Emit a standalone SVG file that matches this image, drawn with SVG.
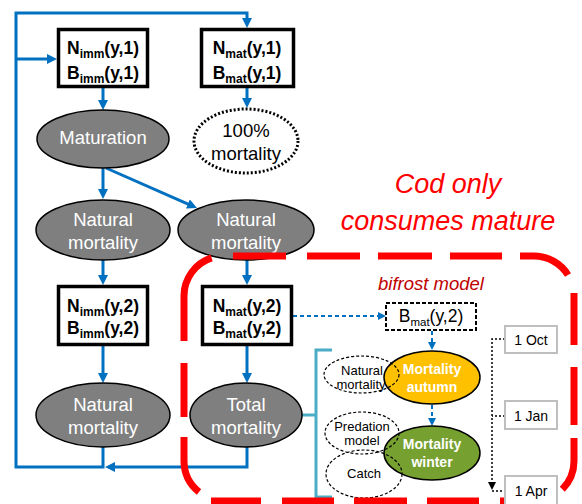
<svg xmlns="http://www.w3.org/2000/svg" width="582" height="504" viewBox="0 0 582 504">
<style>
text{font-family:"Liberation Sans",Arial,sans-serif;}
.box{fill:#fff;stroke:#000;stroke-width:3.5;}
.bt{font-size:17.5px;font-weight:bold;fill:#000;text-anchor:middle;}
.sub{font-size:12px;}
.gray{fill:#7f7f7f;stroke:#000;stroke-width:1.5;}
.wt{font-size:18.5px;fill:#fff;text-anchor:middle;}
.bl{fill:none;stroke:#0070C0;stroke-width:3;}
.bld{fill:none;stroke:#0070C0;stroke-width:2;stroke-dasharray:4 3;}
.rd{fill:none;stroke:#ff0000;stroke-width:7;}
.sm{fill:none;stroke:#000;stroke-width:1.2;stroke-dasharray:3 2;}
.st{font-size:13px;fill:#000;text-anchor:middle;}
.mt{font-size:14px;font-weight:bold;fill:#fff;text-anchor:middle;}
.tb{fill:#fff;stroke:#bfbfbf;stroke-width:2;}
.tt{font-size:14px;fill:#000;text-anchor:middle;}
.dot{fill:none;stroke:#000;stroke-width:1.5;stroke-dasharray:2 2;}
</style>
<defs>
<marker id="ab" viewBox="0 0 10 10" refX="4" refY="5" markerWidth="10" markerHeight="10" markerUnits="userSpaceOnUse" orient="auto"><path d="M0,0 L10,5 L0,10 z" fill="#0070C0"/></marker>
<marker id="abd" viewBox="0 0 8 8" refX="3" refY="4" markerWidth="8" markerHeight="8" markerUnits="userSpaceOnUse" orient="auto"><path d="M0,0 L8,4 L0,8 z" fill="#0070C0"/></marker>
<marker id="ak" viewBox="0 0 8 8" refX="3" refY="4" markerWidth="8" markerHeight="8" markerUnits="userSpaceOnUse" orient="auto"><path d="M0,0 L8,4 L0,8 z" fill="#000"/></marker>
</defs>

<g id="connectors">
<path class="bl" d="M103,447 L103,467 L16,467 L16,13 L247,13 L247,22" marker-end="url(#ab)"/>
<path class="bl" d="M16,59 L51,59" marker-end="url(#ab)"/>
<path class="bl" d="M103,88 L103,104" marker-end="url(#ab)"/>
<path class="bl" d="M247,88 L247,102" marker-end="url(#ab)"/>
<path class="bl" d="M103,168 L103,193" marker-end="url(#ab)"/>
<path class="bl" d="M106,168 L191.5,205.6" marker-end="url(#ab)"/>
<path class="bl" d="M103,260 L103,279" marker-end="url(#ab)"/>
<path class="bl" d="M247,260 L247,279" marker-end="url(#ab)"/>
<path class="bl" d="M103,346 L103,377" marker-end="url(#ab)"/>
<path class="bl" d="M247,346 L247,377" marker-end="url(#ab)"/>
<path class="bl" d="M247,447 L247,467 L111,467" marker-end="url(#ab)"/>
<path class="bld" d="M293,316 L381,316" marker-end="url(#abd)"/>
<path class="bld" d="M432,331 L432,345" marker-end="url(#abd)"/>
<path class="bld" d="M432,405 L432,421" marker-end="url(#abd)"/>
<path fill="none" stroke="#4BACC6" stroke-width="3" d="M332,350 L316,350 L316,497 L332,497 M302,415 L316,415"/>
<path class="dot" d="M505,339 L492,339 L492,485" marker-end="url(#ak)"/>
<path class="dot" d="M505,416 L492,416 M492,491 L505,491"/>
</g>

<g id="n-imm-1"><rect class="box" x="58.5" y="29.5" width="89" height="57"/>
<text class="bt" x="103" y="54">N<tspan class="sub" dy="4">imm</tspan><tspan dy="-4">(y,1)</tspan></text>
<text class="bt" x="103" y="79">B<tspan class="sub" dy="4">imm</tspan><tspan dy="-4">(y,1)</tspan></text></g>
<g id="n-mat-1"><rect class="box" x="201.5" y="29.5" width="92" height="57"/>
<text class="bt" x="247" y="54">N<tspan class="sub" dy="4">mat</tspan><tspan dy="-4">(y,1)</tspan></text>
<text class="bt" x="247" y="79">B<tspan class="sub" dy="4">mat</tspan><tspan dy="-4">(y,1)</tspan></text></g>

<g id="maturation"><ellipse class="gray" cx="103" cy="139" rx="66" ry="29"/>
<text class="wt" x="103" y="144">Maturation</text></g>
<g id="mortality-100"><ellipse fill="none" stroke="#000" stroke-width="3" stroke-dasharray="2 2" cx="246" cy="141" rx="52" ry="32"/>
<text class="wt" style="fill:#000" x="246" y="137">100%</text>
<text class="wt" style="fill:#000" x="246" y="160">mortality</text></g>

<g id="nat-mort-imm-1"><ellipse class="gray" cx="103" cy="230" rx="67" ry="30"/>
<text class="wt" x="103" y="226">Natural</text><text class="wt" x="103" y="249">mortality</text></g>
<g id="nat-mort-mat-1"><ellipse class="gray" cx="246" cy="230" rx="68" ry="30"/>
<text class="wt" x="246" y="226">Natural</text><text class="wt" x="246" y="249">mortality</text></g>

<g id="n-imm-2"><rect class="box" x="58.5" y="286.5" width="89" height="58"/>
<text class="bt" x="103" y="312">N<tspan class="sub" dy="4">imm</tspan><tspan dy="-4">(y,2)</tspan></text>
<text class="bt" x="103" y="334">B<tspan class="sub" dy="4">imm</tspan><tspan dy="-4">(y,2)</tspan></text></g>
<g id="n-mat-2"><rect class="box" x="202.5" y="286.5" width="89" height="58"/>
<text class="bt" x="247" y="312">N<tspan class="sub" dy="4">mat</tspan><tspan dy="-4">(y,2)</tspan></text>
<text class="bt" x="247" y="334">B<tspan class="sub" dy="4">mat</tspan><tspan dy="-4">(y,2)</tspan></text></g>

<g id="nat-mort-imm-2"><ellipse class="gray" cx="103" cy="415" rx="67" ry="32"/>
<text class="wt" x="103" y="411">Natural</text><text class="wt" x="103" y="434">mortality</text></g>
<g id="total-mort"><ellipse class="gray" cx="246" cy="415" rx="56" ry="32"/>
<text class="wt" x="246" y="411">Total</text><text class="wt" x="246" y="434">mortality</text></g>

<g id="cod-note"><text x="448" y="193" font-size="27" font-style="italic" fill="#ff0000" text-anchor="middle">Cod only</text>
<text x="448" y="230" font-size="27" font-style="italic" fill="#ff0000" text-anchor="middle">consumes mature</text></g>

<g id="bifrost-label"><text x="431" y="290" font-size="18.5" font-style="italic" fill="#C00000" text-anchor="middle">bifrost model</text></g>

<g id="b-mat-2"><rect x="386" y="303" width="90" height="27" fill="#fff" stroke="#000" stroke-width="2" stroke-dasharray="4 2"/>
<text x="431" y="322" font-size="17.5" fill="#000" text-anchor="middle">B<tspan font-size="11.5" dy="4">mat</tspan><tspan dy="-4">(y,2)</tspan></text></g>

<g id="mort-autumn"><ellipse cx="432" cy="377.5" rx="48" ry="26.5" fill="#FFC000" stroke="#000" stroke-width="1.5"/>
<text class="mt" x="432" y="374">Mortality</text><text class="mt" x="432" y="392">autumn</text></g>
<g id="mort-winter"><ellipse cx="432" cy="453" rx="48" ry="27" fill="#76A030" stroke="#000" stroke-width="1.5"/>
<text class="mt" x="432" y="449">Mortality</text><text class="mt" x="432" y="467">winter</text></g>

<g id="nat-mort-small"><ellipse class="sm" cx="361.5" cy="374.5" rx="37.5" ry="18.5"/>
<text class="st" x="362" y="375">Natural</text><text class="st" x="361" y="389">mortality</text></g>
<g id="predation"><ellipse class="sm" cx="362" cy="433" rx="37" ry="21"/>
<text class="st" x="362" y="431">Predation</text><text class="st" x="362" y="445">model</text></g>
<g id="catch"><ellipse class="sm" cx="364" cy="474" rx="38" ry="24"/>
<text class="st" x="364" y="478">Catch</text></g>

<g id="red-frame">
<path class="rd" d="M211.6,257.9 A40,40 0 0 0 184,296 L184,341"/>
<path class="rd" d="M184,363 L184,417"/>
<path class="rd" d="M184,437 L184,461 A40,40 0 0 0 199,492"/>
<path class="rd" d="M211,501 L261,501 M282,501 L334,501 M354,501 L407,501 M427,501 L479,501 M500,501 L552,501"/>
<path class="rd" d="M574,438 L574,461 A40,40 0 0 1 562.3,489.3"/>
<path class="rd" d="M574,367 L574,425 M574,293 L574,345"/>
<path class="rd" d="M520,256 L534,256 A40,40 0 0 1 568,275"/>
<path class="rd" d="M450,256 L502,256 M378,256 L432,256 M307,256 L360,256 M233,256 L286,256"/>
</g>

<g id="oct"><rect class="tb" x="505" y="326" width="52" height="27"/><text class="tt" x="531" y="345">1 Oct</text></g>
<g id="jan"><rect class="tb" x="505" y="401" width="52" height="28"/><text class="tt" x="531" y="421">1 Jan</text></g>
<g id="apr"><rect class="tb" x="505" y="476" width="52" height="30"/><text class="tt" x="531" y="496">1 Apr</text></g>
</svg>
